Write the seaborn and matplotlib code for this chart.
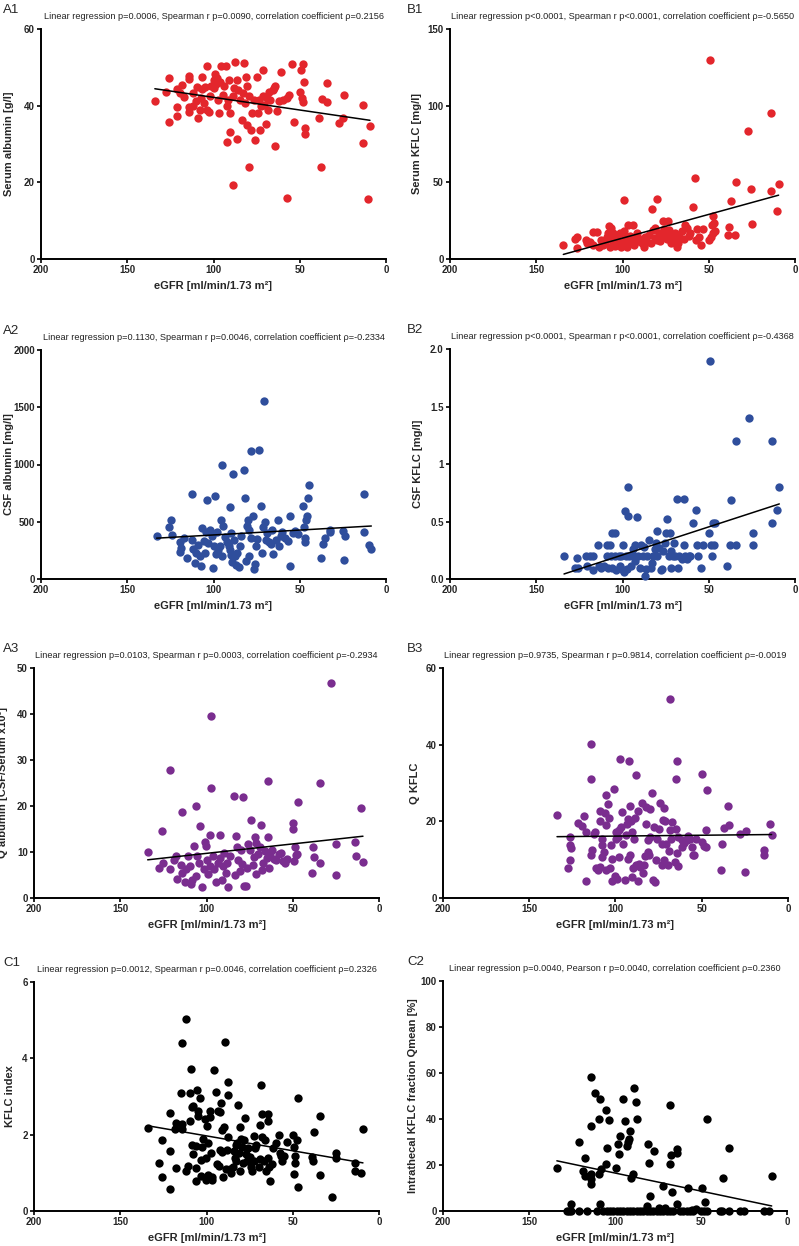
import numpy as np
import pandas as pd
import seaborn as sns
import matplotlib.pyplot as plt

# (eGFR, value) pairs
a1_points = [(134, 41.3), (127.5, 43.5), (126, 47.2), (126, 35.7), (121, 39.7), (121, 37.2), (121, 44.3),
             (118, 45.4), (117, 42.2), (119.4, 43.3), (114, 47.8), (114, 47), (114, 39.6), (114, 38.4),
             (111.7, 43.3), (111.7, 39.8), (110, 41.1), (109.4, 44.9), (109, 36.7), (108, 38.8), (107, 41.9),
             (106.7, 47.6), (106.7, 44.3), (105.5, 40.7), (105, 44.9), (104, 38.9), (103.6, 50.3), (102.4, 38.4),
             (102, 42.4), (101.3, 45.2), (100, 46.8), (99.7, 44.5), (99, 48.3), (98.6, 45.7), (97.8, 47.1),
             (97.4, 41.6), (97, 38.2), (96.2, 46.1), (95.8, 50.3), (94.7, 42.9), (93.9, 45.2), (92.8, 50.4),
             (92.4, 39.8), (92, 30.6), (91.6, 41.6), (90.8, 46.6), (90.4, 33.2), (90.4, 38.1), (88.9, 19.3),
             (88.5, 42.4), (88, 44.7), (87.3, 51.3), (86.6, 31.3), (86.2, 46.8), (85.8, 44.2), (84.6, 41.6),
             (83.5, 36.2), (82.7, 43.3), (82.3, 51.1), (81.9, 40.7), (81.2, 47.6), (80.8, 45.2), (80.8, 34.9),
             (79.6, 24.1), (79.2, 42.4), (78.5, 33.7), (77.7, 38.2), (76.5, 41.6), (76.1, 31.1), (75, 47.5),
             (74.2, 38.1), (73.4, 41.6), (73, 33.7), (72.3, 39.8), (71.5, 49.4), (71.1, 42.6), (70.7, 40.1),
             (69.6, 35.1), (69.2, 41.9), (68.4, 38.9), (67.6, 43.5), (67.2, 41.6), (65.7, 44.2), (65, 44.7),
             (64.5, 45.2), (64.2, 29.5), (63.4, 38.6), (62.2, 41.2), (61, 48.7), (59.9, 41.6), (57.6, 41.9),
             (57.2, 15.9), (56.4, 42.9), (54.5, 50.8), (53.3, 35.8), (49.9, 43.5), (49.5, 49.4), (48.7, 42.1),
             (48.3, 50.8), (48.3, 40.9), (47.5, 46.3), (47.1, 34.2), (46.8, 32.5), (39, 36.7), (37.9, 24.1),
             (37.1, 41.7), (34.4, 45.9), (34, 41), (27, 35.6), (24.7, 36.7), (24.3, 42.8), (13.5, 40.2),
             (13.5, 30.2), (10.4, 15.6), (9.3, 34.6)]

b1_points = [(134.3, 9.1), (127.7, 12.8), (126.2, 14.6), (126.2, 7.2), (121.2, 12.4), (120.8, 10.2), (118.8, 11.3),
             (117.3, 17.6), (117, 9.1), (114.6, 17.6), (113.8, 8.1), (112.3, 12.4), (111.1, 8.9), (110.3, 10.7),
             (109.2, 14.2), (108.4, 16.8), (108, 21.6), (107.2, 8.1), (106.9, 20.2), (106.1, 12.4), (105.3, 16.8),
             (104.3, 8.5), (103.8, 12), (103, 15), (102.2, 10.2), (101.4, 16.8), (100.7, 7.6), (99.9, 11.5),
             (99.1, 38.5), (99.1, 18.5), (98.4, 13.7), (97.6, 8.1), (96.8, 22), (96, 10.2), (95.7, 15),
             (94.9, 12.4), (94.1, 22.4), (93.3, 9.4), (92.6, 14.6), (91.8, 16.8), (91, 12), (89.9, 13.3),
             (88.7, 10.7), (87.5, 8.1), (86.8, 14.2), (86, 11.1), (84.8, 15.9), (83.7, 10.2), (82.9, 32.4),
             (82.1, 18.9), (81.4, 13.7), (81, 20.2), (80.2, 39), (79.8, 12.4), (79, 16.8), (78.3, 11.5),
             (77.5, 15.5), (76.7, 25), (75.9, 19.8), (75.2, 15.9), (74.4, 12.8), (73.6, 25), (72.9, 18.9),
             (72.1, 10.2), (71.3, 15), (70.5, 12.4), (69.4, 16.8), (68.6, 8.1), (67.8, 10.7), (67.1, 14.2),
             (65.5, 18.5), (64.3, 12.8), (63.6, 22), (62.8, 20.2), (61.6, 15), (60.9, 16.8), (59.3, 33.7),
             (57.8, 53.1), (57.4, 12.4), (57, 19.4), (55.5, 14.2), (54.7, 8.9), (53.5, 19.8), (50, 12.4),
             (49.3, 130), (48.5, 14.6), (48.1, 22), (47.7, 28.1), (47.3, 16.8), (46.6, 18.1), (47, 23.3),
             (38.8, 15.5), (38.1, 21.1), (37.3, 37.7), (34.6, 15.9), (34.2, 50.3), (27.2, 83.4), (25.3, 45.5),
             (24.9, 22.9), (13.7, 95.1), (13.7, 44.2), (10.2, 31.6), (9.5, 48.6)]

a2_points = [(133, 379), (126, 452), (124.6, 513), (124.2, 388), (119.2, 321), (118.8, 271), (119.2, 236),
             (117.3, 356), (115.4, 181), (112.7, 740), (112.3, 344), (111.9, 262), (111, 140), (110.4, 227),
             (109.2, 297), (108, 198), (107.2, 111), (106.4, 443), (105.7, 332), (104.9, 227), (104.5, 408),
             (103.7, 694), (102.9, 315), (102.1, 426), (100.9, 373), (100.2, 93), (99.8, 286), (99, 729),
             (98.6, 222), (97.8, 408), (97.4, 256), (96.2, 286), (95.4, 519), (95, 198), (95, 997),
             (94.3, 466), (93.1, 367), (91.9, 321), (91.1, 286), (90.7, 251), (90.4, 630), (90, 402),
             (89.6, 213), (89.2, 152), (88.8, 921), (88.4, 338), (87.6, 198), (86.9, 122), (86.1, 227),
             (85.4, 105), (84.9, 292), (84.2, 373), (82.3, 950), (81.9, 711), (81.1, 157), (80.4, 461),
             (80, 519), (79.6, 426), (79.2, 204), (78.4, 1114), (78.1, 361), (77.3, 548), (76.5, 87),
             (76.1, 134), (75.4, 292), (74.6, 350), (73.4, 1125), (72.7, 641), (71.9, 227), (71.1, 455),
             (70.7, 1551), (69.9, 501), (69.6, 344), (68.8, 402), (68, 326), (66.8, 309), (66, 431),
             (65.3, 222), (63.7, 344), (62.5, 519), (61.8, 292), (61, 373), (60.3, 408), (58.7, 356),
             (56.8, 332), (55.6, 117), (55.6, 548), (54.1, 402), (52.6, 420), (51, 391), (47.9, 641),
             (47.5, 455), (47.1, 356), (46.8, 321), (46.4, 519), (45.6, 548), (45.2, 705), (44.8, 822),
             (37.5, 187), (36.3, 309), (35.5, 361), (32.5, 426), (32.5, 408), (24.9, 420), (24.3, 169),
             (24, 379), (12.8, 740), (12.8, 408), (9.7, 297), (8.5, 262)]

b2_points = [(133.9, 0.20), (127.7, 0.10), (126.2, 0.18), (125.8, 0.10), (121.2, 0.20), (120.4, 0.11),
             (118.8, 0.20), (117.3, 0.20), (117, 0.08), (114.2, 0.30), (113.8, 0.11), (112.3, 0.10),
             (110.7, 0.11), (109.2, 0.30), (109.2, 0.20), (108.4, 0.10), (107.2, 0.30), (106.9, 0.20),
             (106.1, 0.10), (106.1, 0.40), (104.5, 0.40), (104.5, 0.20), (103.8, 0.08), (102.2, 0.20),
             (101.4, 0.11), (100.7, 0.20), (99.9, 0.08), (99.5, 0.30), (99.1, 0.06), (98.7, 0.59),
             (98, 0.20), (97.6, 0.09), (96.8, 0.80), (96.8, 0.55), (96, 0.20), (95.3, 0.11), (94.1, 0.26),
             (93.3, 0.20), (92.9, 0.16), (92.6, 0.30), (91.8, 0.54), (91, 0.20), (89.9, 0.10), (89.1, 0.30),
             (88.3, 0.20), (87.5, 0.28), (87.1, 0.03), (86.4, 0.09), (86, 0.20), (84.4, 0.34), (83.7, 0.10),
             (82.9, 0.14), (82.1, 0.20), (81.4, 0.26), (80.6, 0.31), (80.2, 0.42), (79.8, 0.20), (78.6, 0.27),
             (77.9, 0.08), (77.1, 0.09), (76.3, 0.24), (75.6, 0.31), (74.8, 0.40), (74, 0.52), (73.2, 0.20),
             (72.5, 0.40), (72.1, 0.10), (71.7, 0.24), (70.9, 0.20), (70.1, 0.31), (69.4, 0.20), (68.6, 0.70),
             (67.8, 0.10), (67.1, 0.20), (65.5, 0.17), (64.3, 0.30), (64.3, 0.70), (63.6, 0.20), (62.8, 0.17),
             (61.6, 0.20), (60.9, 0.20), (58.9, 0.49), (57.4, 0.60), (57, 0.30), (56.2, 0.20), (54.7, 0.10),
             (53.1, 0.30), (50, 0.40), (49.3, 1.90), (48.9, 0.30), (48.1, 0.20), (47.3, 0.49), (47, 0.30),
             (46.2, 0.49), (39.2, 0.11), (37.7, 0.30), (36.9, 0.69), (34.2, 1.20), (34.2, 0.30), (26.9, 1.40),
             (24.5, 0.40), (24.5, 0.30), (13.3, 1.20), (13.3, 0.49), (10.2, 0.60), (9.1, 0.80)]

a3_points = [(134.1, 10.1), (127.5, 6.5), (126, 14.5), (125.2, 7.6), (121, 6.3), (121.4, 27.9), (119, 8.2),
             (117.9, 9.2), (117.1, 4.1), (114.8, 7.2), (114.4, 5.4), (114, 18.8), (112.5, 3.4), (111.7, 6.3),
             (110.5, 9.1), (109.8, 6.9), (109, 3.1), (108.2, 4), (107.1, 11.4), (106.3, 4.7), (105.9, 19.9),
             (105.5, 9.1), (104.3, 7.6), (103.6, 15.6), (102.4, 2.4), (101.6, 6.3), (100.9, 12.1),
             (100.5, 11.2), (99.7, 8.2), (98.9, 5.3), (98.2, 6.9), (97.8, 13.8), (97.4, 23.9), (97.4, 39.6),
             (96.2, 9.1), (95.5, 6.3), (94.3, 3.4), (93.5, 7.6), (92.3, 13.6), (92, 8.7), (91.2, 4),
             (90.4, 6.9), (89.7, 9.8), (88.9, 5.4), (88.1, 7.6), (87.3, 2.4), (86.6, 9.1), (84.3, 22.1),
             (83.5, 4.9), (82.7, 13.4), (82.3, 11.1), (81.5, 8.3), (80.8, 5.8), (80, 10.5), (79.2, 7.5),
             (78.8, 21.9), (78.1, 2.7), (77.3, 2.7), (76.5, 6.5), (75.7, 11.7), (75, 10.5), (74.2, 17),
             (73, 7.2), (72.7, 8.9), (71.9, 13.3), (71.5, 5.3), (71.1, 12), (70, 9.6), (69.2, 11.1),
             (68.4, 15.9), (68, 6), (67.2, 7.6), (66.1, 10.2), (64.9, 8.7), (64.5, 25.4), (64.2, 13.3),
             (63.8, 6.5), (63, 9.8), (61.8, 10.4), (60.7, 8.5), (59.5, 8.3), (58, 9.6), (56.8, 9.8),
             (55.7, 8), (54.5, 7.6), (53.3, 8.5), (49.9, 16.4), (49.9, 14.9), (49.5, 8), (48.7, 11.1),
             (48.3, 9.3), (47.5, 9.6), (47.1, 20.8), (39, 5.4), (38.3, 11.1), (37.5, 8.9), (34.4, 25.1),
             (34.4, 7.6), (27.8, 46.7), (25.1, 4.9), (24.7, 11.7), (13.9, 12.1), (13.5, 9.1), (10.4, 19.5),
             (9.3, 7.8)]

b3_points = [(133.9, 21.7), (127.3, 7.9), (126.2, 13.7), (125.8, 13), (126.6, 15.8), (126.2, 9.9), (121.5, 19.6),
             (119.2, 18.9), (118, 21.5), (117.3, 17.3), (116.9, 4.4), (114.2, 40.2), (114.2, 31), (114.2, 11.2),
             (113.8, 12.6), (112.7, 16.8), (111.9, 17.3), (111.1, 7.9), (110, 7.4), (109.2, 8.1), (108.8, 20.1),
             (108.8, 22.6), (108, 15.3), (108, 13.7), (107.6, 10.7), (106.5, 11.9), (106.1, 22.1), (105.7, 26.8),
             (105.7, 19.1), (105.3, 7.4), (104.5, 24.5), (103.8, 20.8), (103.4, 7.8), (102.6, 13.7), (102.2, 4.4),
             (101.8, 10.2), (100.7, 28.5), (100.3, 5.8), (99.9, 15.3), (99.5, 17.2), (99.1, 5), (98.7, 15.8),
             (98, 10.7), (98, 17.7), (97.2, 36.2), (96.8, 18.4), (96, 22.4), (95.7, 14.2), (94.5, 4.6),
             (94.1, 16.5), (93.3, 19.3), (92.9, 10.2), (92.6, 20.5), (92.2, 35.7), (91.8, 24.1), (91.4, 11.2),
             (91, 20), (90.6, 5.5), (90.2, 17.3), (89.9, 7.9), (89.5, 15.3), (88.7, 20.8), (88.3, 8.5),
             (87.9, 32), (87.1, 22.6), (87.1, 4.4), (86.4, 9), (85.6, 8.1), (84.8, 24.7), (84.1, 6.5),
             (83.3, 8.6), (82.9, 10.9), (82.1, 19.3), (82.1, 23.8), (81.4, 15.1), (81, 12.1), (80.6, 11.1),
             (80.2, 23.3), (79.8, 15.8), (79, 27.5), (78.3, 4.8), (77.5, 18.4), (77.1, 4.1), (76.3, 9.9),
             (75.9, 15.3), (74.8, 18), (74, 24.8), (73.2, 14), (72.9, 8.5), (72.5, 20.3), (72.1, 23.5),
             (71.7, 9.9), (71.3, 20), (70.9, 14), (69.8, 8.5), (69, 12.3), (68.6, 17.7), (68.2, 51.9),
             (67.8, 15.3), (67.1, 19.8), (65.5, 9.3), (65.1, 17.9), (64.7, 31), (64.3, 35.7), (64.3, 11.8),
             (64, 15.8), (63.6, 8.3), (61.6, 13.3), (61.3, 15.1), (60.1, 14.4), (58.6, 15.1), (57.8, 16.3),
             (56.6, 15.3), (55.8, 13.2), (55.1, 11.2), (54.3, 11.1), (53.1, 15.3), (50, 32.3), (49.7, 14.7),
             (48.9, 13.5), (47.7, 17.7), (47.3, 13.2), (46.9, 28.2), (38.8, 7.4), (38.1, 14.2), (37.3, 18.2),
             (34.6, 24), (34.2, 19.1), (27.6, 16.8), (25, 6.7), (24.5, 17.5), (13.7, 12.6), (13.7, 11.2),
             (10.2, 19.3), (9.5, 16.5)]

c1_points = [(134.1, 2.17), (127.5, 1.25), (126, 1.87), (126, 0.90), (121.4, 2.57), (121, 1.58), (121.4, 0.57),
             (118.3, 2.15), (117.9, 2.31), (117.5, 1.12), (114.8, 3.08), (114.4, 4.40), (114.4, 2.28),
             (114, 2.14), (112.1, 5.03), (111.7, 1.05), (110.9, 1.19), (109.8, 2.36), (109.4, 3.08),
             (109, 3.71), (108.6, 2.73), (108.2, 1.72), (107.8, 2.76), (107.8, 1.49), (106.3, 1.70),
             (105.9, 1.12), (105.9, 0.79), (105.5, 3.18), (105.1, 2.61), (104.7, 2.50), (104, 2.97),
             (103.2, 0.92), (103.2, 1.33), (102.4, 1.68), (102, 1.89), (100.9, 2.41), (100.5, 1.39),
             (100.1, 0.81), (99.7, 2.22), (98.9, 1.79), (98.9, 0.95), (98.2, 2.47), (97.8, 2.62), (97.4, 1.51),
             (97, 0.81), (96.6, 0.88), (95.8, 3.69), (94.7, 3.11), (93.9, 1.23), (93.1, 2.62), (92.8, 1.19),
             (92.4, 1.60), (92, 2.59), (91.6, 2.83), (91.2, 1.54), (90.8, 2.12), (90.4, 0.90), (90, 2.19),
             (89.3, 4.42), (88.5, 1.11), (88.1, 1.60), (87.7, 3.39), (87.3, 3.04), (87.3, 1.94), (86.6, 1.09),
             (85.8, 1.00), (84.6, 1.16), (84.2, 1.58), (83.5, 1.39), (83.1, 1.32), (82.7, 1.72), (82.3, 1.77),
             (81.5, 2.77), (81.2, 1.51), (80.8, 2.21), (80.4, 1.05), (80, 1.89), (79.6, 1.68), (78.8, 1.25),
             (78.1, 1.85), (77.7, 2.43), (77.3, 1.49), (76.5, 1.30), (75.7, 1.65), (75, 1.42), (74.2, 1.16),
             (73.4, 1.05), (72.7, 1.96), (72.3, 1.30), (71.9, 1.65), (71.1, 1.72), (69.6, 1.16), (69.2, 1.37),
             (68.8, 2.26), (68.4, 3.29), (68, 2.55), (67.6, 1.93), (66.9, 1.30), (66.1, 1.86), (65.3, 1.05),
             (64.5, 1.40), (64.2, 2.36), (64.2, 2.55), (63.8, 1.16), (63.4, 0.79), (61.8, 1.23), (61.4, 1.65),
             (59.5, 1.77), (58, 1.98), (57.6, 1.53), (56.8, 1.44), (56, 1.32), (55.3, 1.44), (53.3, 1.82),
             (49.9, 1.98), (49.5, 0.98), (49.5, 1.68), (48.7, 1.44), (48.7, 1.25), (47.5, 1.86), (47.1, 0.64),
             (46.8, 2.96), (39, 1.42), (38.3, 1.30), (37.5, 2.07), (34.4, 0.95), (34.4, 2.50), (27.4, 0.36),
             (25.1, 1.51), (25.1, 1.40), (13.9, 1.26), (13.9, 1.05), (10.4, 0.99), (9.3, 2.14)]

c2_points = [(133.8, 18.6), (121.1, 29.8), (118.4, 17.4), (117.6, 23.2), (117.2, 15.1), (114.1, 58.3), (114.1, 37),
             (113.7, 16.3), (113.7, 13.9), (113.7, 11.6), (111.8, 51.4), (109.5, 16.3), (109.1, 39.8),
             (108.7, 48.8), (108.7, 2.9), (107.9, 18.3), (105.2, 43.8), (105.2, 20.6), (104.8, 27.6),
             (103.7, 39.5), (99.4, 18.6), (98.3, 29.3), (97.9, 24.7), (97.1, 32.8), (95.6, 48.5), (94, 39.2),
             (93.2, 28.4), (92.5, 29.9), (91.7, 31.1), (91.3, 34.8), (90.5, 14.2), (89.4, 16), (89, 53.4),
             (87.8, 47.6), (87, 39.8), (81.6, 2.3), (80.9, 29.3), (80.1, 20.9), (79.7, 6.4), (77.4, 26.1),
             (74.7, 1.5), (72.3, 11), (71.2, 1.2), (68.1, 45.9), (68.1, 20.6), (67.7, 24.4), (66.9, 8.4),
             (64.2, 2.9), (63.8, 27), (63.8, 25.3), (57.3, 9.9), (55.3, 0.6), (53, 0.9), (49.5, 9.9),
             (47.6, 4.1), (46.4, 39.8), (37.1, 14.5), (34, 27.3), (8.9, 15.4), (125.7, 2.9),
             (128, 0), (126.9, 0), (125.7, 0), (120.7, 0), (116.4, 0), (110.6, 0), (106.8, 0), (104.8, 0),
             (102.9, 0), (101, 0), (99, 0), (97.1, 0), (95.2, 0), (93.2, 0), (91.3, 0), (89.4, 0), (87.4, 0),
             (85.5, 0), (83.6, 0), (81.6, 0), (79.7, 0), (77.8, 0), (75.8, 0), (73.9, 0), (71.9, 0), (70, 0),
             (68.1, 0), (66.2, 0), (62.3, 0), (60.3, 0), (58.4, 0), (56.5, 0), (54.5, 0), (49.9, 0), (48.4, 0),
             (46.8, 0), (38.7, 0), (37.9, 0), (34, 0), (27.1, 0), (24.8, 0), (13.2, 0), (10.4, 0)]

x_ticks = [200, 150, 100, 50, 0]
x_label = 'eGFR [ml/min/1.73 m²]'

RED = '#e3262c'
BLUE = '#2f4e9c'
PURPLE = '#7a2d8f'
BLACK = '#000000'

panels = [
    # label, points, color, ylabel, yticks, yticklabels, title, (left, top, right, bottom) px, ylabel x px
    ('A1', a1_points, RED, 'Serum albumin [g/l]', [0, 20, 40, 60], None,
     'Linear regression p=0.0006, Spearman r p=0.0090, correlation coefficient ρ=0.2156', (41, 29, 386, 259), 14),
    ('B1', b1_points, RED, 'Serum KFLC [mg/l]', [0, 50, 100, 150], None,
     'Linear regression p<0.0001, Spearman r p<0.0001, correlation coefficient ρ=-0.5650', (450, 29, 795, 259), 422),
    ('A2', a2_points, BLUE, 'CSF albumin [mg/l]', [0, 500, 1000, 1500, 2000], None,
     'Linear regression p=0.1130, Spearman r p=0.0046, correlation coefficient ρ=-0.2334', (41, 350, 386, 579), 14),
    ('B2', b2_points, BLUE, 'CSF KFLC [mg/l]', [0, 0.5, 1, 1.5, 2.0], ['0.0', '0.5', '1', '1.5', '2.0'],
     'Linear regression p<0.0001, Spearman r p<0.0001, correlation coefficient ρ=-0.4368', (450, 349, 795, 579), 423),
    ('A3', a3_points, PURPLE, 'Q albumin [CSF/Serum x10³]', [0, 10, 20, 30, 40, 50], None,
     'Linear regression p=0.0103, Spearman r p=0.0003, correlation coefficient ρ=-0.2934', (34, 668, 379, 898), 8),
    ('B3', b3_points, PURPLE, 'Q KFLC', [0, 20, 40, 60], None,
     'Linear regression p=0.9735, Spearman r p=0.9814, correlation coefficient ρ=-0.0019', (443, 668, 788, 898), 420),
    ('C1', c1_points, BLACK, 'KFLC index', [0, 2, 4, 6], None,
     'Linear regression p=0.0012, Spearman r p=0.0046, correlation coefficient ρ=0.2326', (34, 982, 379, 1211), 15),
    ('C2', c2_points, BLACK, 'Intrathecal KFLC fraction Qmean [%]', [0, 20, 40, 60, 80, 100], None,
     'Linear regression p=0.0040, Pearson r p=0.0040, correlation coefficient ρ=0.2360', (443, 981, 787, 1211), 418),
]

sns.set_style('ticks')
plt.rcParams['font.family'] = ['Liberation Sans', 'DejaVu Sans']

W, H = 799, 1246
fig = plt.figure(figsize=(W / 100, H / 100), dpi=100)

for label, pts, color, ylab, yticks, ytlabels, title, (l, t, r, b), ylab_x in panels:
    ax = fig.add_axes([l / W, 1 - b / H, (r - l) / W, (b - t) / H])
    df = pd.DataFrame(pts, columns=['egfr', 'val'])
    sns.scatterplot(data=df, x='egfr', y='val', color=color, s=36, linewidth=0,
                    ax=ax, zorder=3, clip_on=False)
    sns.regplot(data=df, x='egfr', y='val', scatter=False, ci=None, truncate=True,
                line_kws=dict(color='black', lw=1.1, zorder=4), ax=ax)
    ax.set_xlim(200, 0)
    ax.set_ylim(yticks[0], yticks[-1])
    ax.set_xticks(x_ticks)
    ax.set_yticks(yticks)
    if ytlabels:
        ax.set_yticklabels(ytlabels)
    for tl in ax.get_xticklabels() + ax.get_yticklabels():
        tl.set_fontweight('bold')
        tl.set_fontsize(7)
    ax.tick_params(direction='out', length=3, width=1.2, pad=1.5, color='black')
    sns.despine(ax=ax)
    for sp in ('left', 'bottom'):
        ax.spines[sp].set_linewidth(1.4)
        ax.spines[sp].set_color('black')
    ax.set_xlabel(x_label, fontsize=8, fontweight='bold', labelpad=4)
    ax.set_ylabel(ylab, fontsize=8, fontweight='bold')
    ax.yaxis.set_label_coords((ylab_x - l) / (r - l), 0.5)
    ax.set_title(title, fontsize=6.6, color='#222222', pad=7)
    lab_x = 3 if l < 400 else 407
    fig.text(lab_x / W, 1 - (t - 19) / H, label, fontsize=9.5, va='center', ha='left')

fig.savefig('out.png', dpi=100)
